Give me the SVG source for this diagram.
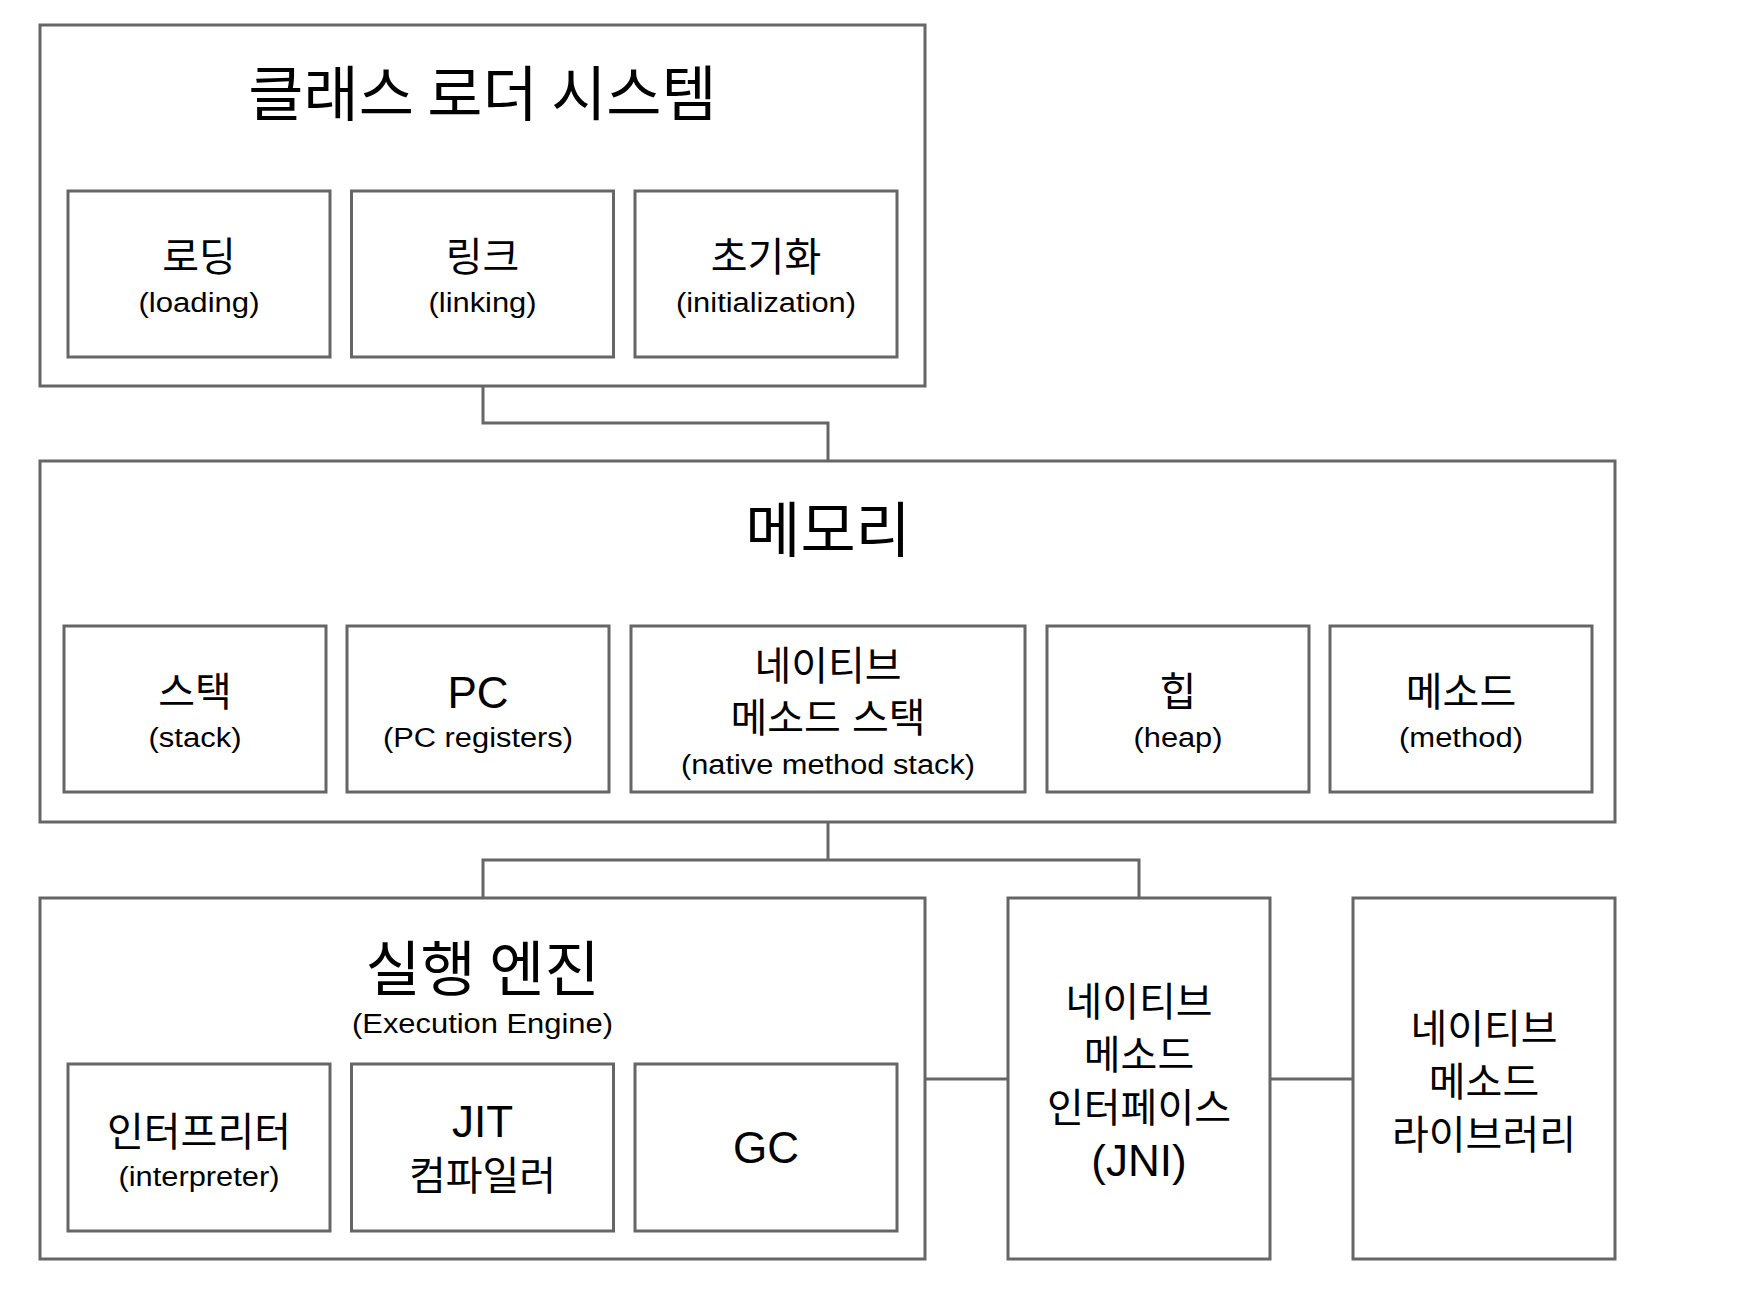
<svg xmlns="http://www.w3.org/2000/svg" width="1750" height="1312" viewBox="0 0 1750 1312">
<style>
  .box { fill: #ffffff; stroke: #666666; stroke-width: 3; }
  .conn { fill: none; stroke: #666666; stroke-width: 3; }
  text { fill: #000000; text-anchor: middle; }
  .kt { font-family: "Noto Sans CJK KR", "Liberation Sans", sans-serif; font-size: 60px; }
  .k { font-family: "Noto Sans CJK KR", "Liberation Sans", sans-serif; font-size: 40px; }
  .km { font-family: "Liberation Sans", "Noto Sans CJK KR", sans-serif; font-size: 40px; }
  .e { font-family: "Liberation Sans", "Noto Sans CJK KR", sans-serif; font-size: 27px; }
  .el { font-family: "Liberation Sans", "Noto Sans CJK KR", sans-serif; font-size: 44px; }
</style>
<rect x="0" y="0" width="1750" height="1312" fill="#ffffff"/>

<g id="connectors">
  <path class="conn" d="M483,386 V423 H828 V461"/>
  <path class="conn" d="M828,822 V860"/>
  <path class="conn" d="M483,898 V860 H1139 V898"/>
  <path class="conn" d="M925,1079 H1008"/>
  <path class="conn" d="M1270,1079 H1353"/>
</g>

<g id="class-loader">
  <rect class="box" x="40" y="25" width="885" height="361"/>
  <text class="kt" x="482.5" y="116">클래스 로더 시스템</text>
</g>
<g id="loading">
  <rect class="box" x="68" y="191" width="262" height="166"/>
  <text class="k" x="199" y="271">로딩</text>
  <text class="e" x="199" y="312" textLength="121" lengthAdjust="spacingAndGlyphs">(loading)</text>
</g>
<g id="linking">
  <rect class="box" x="351.5" y="191" width="262" height="166"/>
  <text class="k" x="482.5" y="271">링크</text>
  <text class="e" x="482.5" y="312" textLength="108" lengthAdjust="spacingAndGlyphs">(linking)</text>
</g>
<g id="initialization">
  <rect class="box" x="635" y="191" width="262" height="166"/>
  <text class="k" x="766" y="271">초기화</text>
  <text class="e" x="766" y="312" textLength="180" lengthAdjust="spacingAndGlyphs">(initialization)</text>
</g>

<g id="memory">
  <rect class="box" x="40" y="461" width="1575" height="361"/>
  <text class="kt" x="828" y="552">메모리</text>
</g>
<g id="stack">
  <rect class="box" x="64" y="626" width="262" height="166"/>
  <text class="k" x="195" y="706">스택</text>
  <text class="e" x="195" y="747" textLength="93" lengthAdjust="spacingAndGlyphs">(stack)</text>
</g>
<g id="pc-registers">
  <rect class="box" x="347" y="626" width="262" height="166"/>
  <text class="el" x="478" y="708">PC</text>
  <text class="e" x="478" y="747" textLength="190" lengthAdjust="spacingAndGlyphs">(PC registers)</text>
</g>
<g id="native-method-stack">
  <rect class="box" x="631" y="626" width="394" height="166"/>
  <text class="km" x="828" y="680">네이티브</text>
  <text class="km" x="828" y="732">메소드 스택</text>
  <text class="e" x="828" y="774" textLength="294" lengthAdjust="spacingAndGlyphs">(native method stack)</text>
</g>
<g id="heap">
  <rect class="box" x="1047" y="626" width="262" height="166"/>
  <text class="k" x="1178" y="706">힙</text>
  <text class="e" x="1178" y="747" textLength="89" lengthAdjust="spacingAndGlyphs">(heap)</text>
</g>
<g id="method">
  <rect class="box" x="1330" y="626" width="262" height="166"/>
  <text class="k" x="1461" y="706">메소드</text>
  <text class="e" x="1461" y="747" textLength="124" lengthAdjust="spacingAndGlyphs">(method)</text>
</g>

<g id="execution-engine">
  <rect class="box" x="40" y="898" width="885" height="361"/>
  <text class="kt" x="482.5" y="991">실행 엔진</text>
  <text class="e" x="482.5" y="1033" textLength="261" lengthAdjust="spacingAndGlyphs">(Execution Engine)</text>
</g>
<g id="interpreter">
  <rect class="box" x="68" y="1064" width="262" height="167"/>
  <text class="k" x="199" y="1146">인터프리터</text>
  <text class="e" x="199" y="1186" textLength="161" lengthAdjust="spacingAndGlyphs">(interpreter)</text>
</g>
<g id="jit-compiler">
  <rect class="box" x="351.5" y="1064" width="262" height="167"/>
  <text class="el" x="482.5" y="1137">JIT</text>
  <text class="k" x="482.5" y="1190">컴파일러</text>
</g>
<g id="gc">
  <rect class="box" x="635" y="1064" width="262" height="167"/>
  <text class="el" x="766" y="1163">GC</text>
</g>

<g id="jni">
  <rect class="box" x="1008" y="898" width="262" height="361"/>
  <text class="km" x="1139" y="1016">네이티브</text>
  <text class="km" x="1139" y="1069">메소드</text>
  <text class="km" x="1139" y="1122">인터페이스</text>
  <text class="el" x="1139" y="1176">(JNI)</text>
</g>
<g id="native-method-library">
  <rect class="box" x="1353" y="898" width="262" height="361"/>
  <text class="km" x="1484" y="1043">네이티브</text>
  <text class="km" x="1484" y="1096">메소드</text>
  <text class="km" x="1484" y="1149">라이브러리</text>
</g>
</svg>
